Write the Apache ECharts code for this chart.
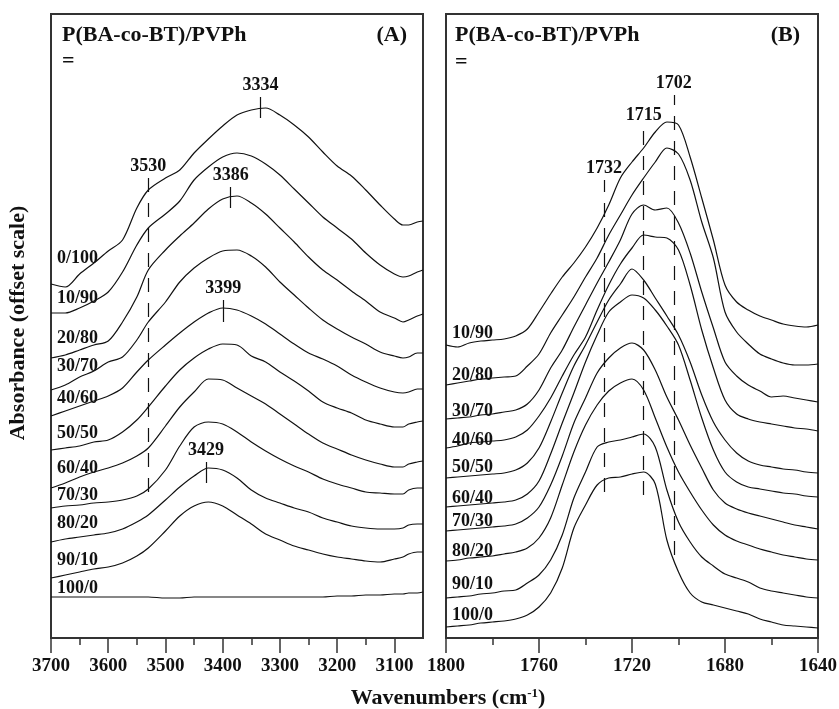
<!DOCTYPE html>
<html>
<head>
<meta charset="utf-8">
<title>P(BA-co-BT)/PVPh FTIR</title>
<script src="https://cdn.jsdelivr.net/npm/echarts@6/dist/echarts.min.js"></script>
<style>
  html, body { margin: 0; padding: 0; background: #fff; }
  #chart { width: 839px; height: 709px; }
</style>
</head>
<body>
<div id="chart"></div>
<script>
// panel A: OH stretching region, wavenumber samples
const waveA = [3700, 3675, 3650, 3625, 3600, 3575, 3550, 3530, 3500, 3475, 3450, 3425, 3400, 3375, 3350,
  3325, 3300, 3275, 3250, 3225, 3200, 3175, 3150, 3125, 3100, 3085, 3075, 3060, 3050];

// absorbance (offset scale)
const a0_100 = [3.54, 3.51, 3.64, 3.75, 3.87, 3.98, 4.30, 4.48, 4.60, 4.68, 4.85, 4.99, 5.12, 5.23, 5.28, 5.30, 5.23, 5.13, 5.01, 4.86, 4.72, 4.62, 4.48, 4.33, 4.19, 4.13, 4.13, 4.16, 4.17];
const a10_90 = [3.25, 3.25, 3.30, 3.37, 3.46, 3.66, 3.93, 4.10, 4.24, 4.37, 4.58, 4.71, 4.81, 4.85, 4.82, 4.74, 4.63, 4.49, 4.35, 4.21, 4.10, 3.99, 3.85, 3.73, 3.64, 3.61, 3.62, 3.66, 3.68];
const a20_80 = [2.80, 2.83, 2.88, 2.93, 2.97, 3.16, 3.41, 3.68, 3.88, 4.02, 4.15, 4.29, 4.39, 4.42, 4.35, 4.24, 4.10, 3.96, 3.81, 3.68, 3.58, 3.47, 3.37, 3.26, 3.20, 3.16, 3.18, 3.22, 3.24];
const a30_70 = [2.48, 2.53, 2.61, 2.67, 2.76, 2.81, 2.98, 3.16, 3.36, 3.56, 3.70, 3.80, 3.87, 3.88, 3.82, 3.71, 3.56, 3.43, 3.30, 3.18, 3.09, 3.01, 2.94, 2.86, 2.82, 2.80, 2.81, 2.85, 2.85];
const a40_60 = [2.22, 2.27, 2.32, 2.37, 2.42, 2.50, 2.66, 2.78, 2.93, 3.05, 3.16, 3.25, 3.30, 3.28, 3.22, 3.14, 3.04, 2.94, 2.85, 2.79, 2.72, 2.63, 2.56, 2.50, 2.46, 2.45, 2.46, 2.49, 2.49];
const a50_50 = [1.88, 1.90, 1.92, 1.96, 1.98, 2.06, 2.18, 2.31, 2.52, 2.68, 2.80, 2.89, 2.94, 2.93, 2.82, 2.76, 2.66, 2.57, 2.47, 2.36, 2.30, 2.25, 2.18, 2.14, 2.11, 2.11, 2.14, 2.16, 2.17];
const a60_40 = [1.50, 1.55, 1.61, 1.66, 1.70, 1.75, 1.82, 1.90, 2.12, 2.31, 2.46, 2.59, 2.58, 2.50, 2.42, 2.34, 2.24, 2.14, 2.04, 1.95, 1.89, 1.83, 1.78, 1.74, 1.71, 1.71, 1.74, 1.76, 1.77];
const a70_30 = [1.30, 1.32, 1.33, 1.35, 1.36, 1.38, 1.42, 1.49, 1.68, 1.92, 2.11, 2.16, 2.14, 2.06, 1.96, 1.87, 1.79, 1.72, 1.66, 1.59, 1.54, 1.50, 1.46, 1.45, 1.44, 1.44, 1.48, 1.50, 1.50];
const a80_20 = [0.96, 0.99, 1.01, 1.03, 1.05, 1.09, 1.16, 1.23, 1.38, 1.51, 1.62, 1.70, 1.68, 1.60, 1.48, 1.40, 1.35, 1.30, 1.26, 1.20, 1.16, 1.12, 1.10, 1.09, 1.09, 1.10, 1.13, 1.14, 1.14];
const a90_10 = [0.60, 0.63, 0.66, 0.69, 0.71, 0.75, 0.82, 0.90, 1.07, 1.22, 1.32, 1.36, 1.32, 1.23, 1.14, 1.04, 0.98, 0.92, 0.88, 0.84, 0.81, 0.79, 0.77, 0.76, 0.79, 0.81, 0.84, 0.86, 0.86];
const a100_0 = [0.41, 0.41, 0.41, 0.41, 0.41, 0.41, 0.41, 0.41, 0.40, 0.40, 0.41, 0.41, 0.41, 0.41, 0.41, 0.41, 0.41, 0.41, 0.41, 0.41, 0.42, 0.42, 0.43, 0.43, 0.44, 0.44, 0.45, 0.45, 0.46];

// panel B: carbonyl region
const waveB = [1800, 1795, 1790, 1785, 1780, 1775, 1770, 1765, 1760, 1755, 1750, 1745, 1740, 1735, 1730, 1725, 1720,
  1715, 1710, 1705, 1700, 1695, 1690, 1685, 1680, 1675, 1670, 1665, 1660, 1655, 1650, 1645, 1640];

const b10_90 = [2.93, 2.91, 2.95, 2.97, 2.98, 2.99, 3.02, 3.09, 3.26, 3.44, 3.61, 3.75, 3.91, 4.10, 4.33, 4.60, 4.76, 4.90, 5.06, 5.16, 5.13, 4.81, 4.40, 3.98, 3.53, 3.36, 3.28, 3.22, 3.18, 3.14, 3.12, 3.11, 3.13];
const b20_80 = [2.53, 2.55, 2.57, 2.59, 2.60, 2.61, 2.62, 2.72, 2.84, 3.05, 3.23, 3.41, 3.61, 3.80, 4.03, 4.23, 4.43, 4.60, 4.76, 4.90, 4.84, 4.58, 4.16, 3.80, 3.26, 3.06, 2.94, 2.84, 2.79, 2.75, 2.73, 2.73, 2.74];
const b30_70 = [2.19, 2.20, 2.21, 2.23, 2.24, 2.26, 2.28, 2.34, 2.48, 2.70, 2.88, 3.11, 3.33, 3.55, 3.76, 3.98, 4.24, 4.33, 4.28, 4.30, 4.15, 3.85, 3.46, 3.10, 2.76, 2.62, 2.53, 2.47, 2.41, 2.42, 2.40, 2.38, 2.36];
const b40_60 = [1.90, 1.92, 1.95, 1.96, 1.97, 1.98, 2.01, 2.08, 2.22, 2.40, 2.62, 2.83, 3.01, 3.28, 3.53, 3.74, 3.90, 4.03, 4.01, 4.00, 3.88, 3.53, 3.08, 2.70, 2.38, 2.24, 2.19, 2.16, 2.14, 2.12, 2.10, 2.09, 2.07];
const b50_50 = [1.60, 1.61, 1.62, 1.63, 1.64, 1.65, 1.68, 1.75, 1.90, 2.16, 2.45, 2.72, 2.93, 3.16, 3.38, 3.54, 3.69, 3.58, 3.40, 3.22, 3.03, 2.76, 2.43, 2.16, 1.98, 1.85, 1.77, 1.73, 1.71, 1.69, 1.68, 1.66, 1.65];
const b60_40 = [1.31, 1.32, 1.33, 1.34, 1.35, 1.36, 1.38, 1.44, 1.57, 1.84, 2.15, 2.45, 2.76, 3.03, 3.26, 3.36, 3.43, 3.40, 3.28, 3.12, 2.93, 2.58, 2.20, 1.88, 1.66, 1.56, 1.51, 1.49, 1.47, 1.45, 1.44, 1.42, 1.41];
const b70_30 = [1.07, 1.08, 1.09, 1.10, 1.11, 1.12, 1.14, 1.20, 1.31, 1.53, 1.82, 2.15, 2.40, 2.65, 2.80, 2.90, 2.95, 2.88, 2.68, 2.41, 2.18, 1.93, 1.70, 1.48, 1.35, 1.29, 1.25, 1.22, 1.19, 1.16, 1.13, 1.11, 1.09];
const b80_20 = [0.77, 0.78, 0.80, 0.81, 0.82, 0.84, 0.86, 0.90, 1.00, 1.20, 1.53, 1.86, 2.13, 2.33, 2.47, 2.55, 2.59, 2.48, 2.20, 1.91, 1.66, 1.46, 1.28, 1.13, 1.03, 0.97, 0.93, 0.89, 0.86, 0.83, 0.81, 0.79, 0.78];
const b90_10 = [0.40, 0.41, 0.42, 0.44, 0.45, 0.47, 0.48, 0.55, 0.63, 0.78, 1.03, 1.40, 1.66, 1.91, 1.96, 1.98, 2.01, 2.04, 1.91, 1.48, 1.16, 0.96, 0.81, 0.72, 0.64, 0.60, 0.56, 0.50, 0.47, 0.45, 0.43, 0.41, 0.40];
const b100_0 = [0.11, 0.12, 0.13, 0.15, 0.16, 0.17, 0.19, 0.23, 0.31, 0.45, 0.70, 1.10, 1.33, 1.53, 1.60, 1.61, 1.64, 1.66, 1.54, 0.98, 0.66, 0.45, 0.36, 0.33, 0.30, 0.27, 0.24, 0.19, 0.16, 0.13, 0.12, 0.11, 0.10];

const namesA = ['0/100', '10/90', '20/80', '30/70', '40/60', '50/50', '60/40', '70/30', '80/20', '90/10', '100/0'];
const curvesA = [a0_100, a10_90, a20_80, a30_70, a40_60, a50_50, a60_40, a70_30, a80_20, a90_10, a100_0];
const namesB = ['10/90', '20/80', '30/70', '40/60', '50/50', '60/40', '70/30', '80/20', '90/10', '100/0'];
const curvesB = [b10_90, b20_80, b30_70, b40_60, b50_50, b60_40, b70_30, b80_20, b90_10, b100_0];

const ticksA = [3700, 3600, 3500, 3400, 3300, 3200, 3100];
const minorTicksA = [3650, 3550, 3450, 3350, 3250, 3150];

const FONT = '"Liberation Serif", "Times New Roman", serif';
const INK = '#111';
const FRAME = '#333';

// label placement (pixels) for the blend ratios
const labelYA = [258, 298, 338, 366, 398, 433, 468, 495, 523, 560, 588];
const labelYB = [333, 375, 411, 440, 467, 498, 521, 551, 584, 615];

const chart = echarts.init(document.getElementById('chart'));

function pairs(wave, vals) {
  return wave.map((w, i) => [w, vals[i]]);
}

function vline(x, y0, y1, text, dashed) {
  return [
    { coord: [x, y0], name: text, lineStyle: { type: dashed ? [14, 11] : 'solid' } },
    { coord: [x, y1] }
  ];
}

const markBase = {
  silent: true,
  symbol: 'none',
  animation: false,
  lineStyle: { color: INK, width: 1.2 },
  label: {
    show: true, position: 'end', distance: 3,
    formatter: p => p.name,
    fontFamily: FONT, fontWeight: 'bold', fontSize: 18, color: INK
  }
};

const marksA = {
  0: [vline(3530, 1.46, 4.60, '3530', true), vline(3334, 5.20, 5.41, '3334', false)],
  2: [vline(3386, 4.30, 4.51, '3386', false)],
  4: [vline(3399, 3.16, 3.38, '3399', false)],
  8: [vline(3429, 1.55, 1.76, '3429', false)]
};
const marksB = {
  0: [vline(1732, 1.46, 4.58, '1732', true), vline(1715, 1.43, 5.11, '1715', true), vline(1702, 0.83, 5.43, '1702', true)]
};

const series = [];
curvesA.forEach((c, i) => {
  const s = {
    name: 'A ' + namesA[i], type: 'line', xAxisIndex: 0, yAxisIndex: 0,
    data: pairs(waveA, c), showSymbol: false, symbol: 'none', smooth: 0.3,
    lineStyle: { color: INK, width: 1.2 }, animation: false
  };
  if (marksA[i]) s.markLine = Object.assign({}, markBase, { data: marksA[i] });
  series.push(s);
});
curvesB.forEach((c, i) => {
  const s = {
    name: 'B ' + namesB[i], type: 'line', xAxisIndex: 2, yAxisIndex: 1,
    data: pairs(waveB, c), showSymbol: false, symbol: 'none', smooth: 0.3,
    lineStyle: { color: INK, width: 1.2 }, animation: false
  };
  if (marksB[i]) s.markLine = Object.assign({}, markBase, { data: marksB[i] });
  series.push(s);
});

const tickLabel = {
  fontFamily: FONT, fontWeight: 'bold', fontSize: 19, color: INK, margin: 19,
  formatter: v => String(v)
};

const graphic = [];
function txt(x, y, text, size, align, extra) {
  graphic.push(Object.assign({
    type: 'text', x: x, y: y, silent: true,
    style: { text: text, font: 'bold ' + size + 'px ' + FONT, fill: INK, align: align || 'left', verticalAlign: 'middle' }
  }, extra || {}));
}
txt(62, 35, 'P(BA-co-BT)/PVPh', 22);
txt(407, 35, '(A)', 22, 'right');
txt(62, 61, '=', 22);
txt(455, 35, 'P(BA-co-BT)/PVPh', 22);
txt(800, 35, '(B)', 22, 'right');
txt(455, 62, '=', 22);
namesA.forEach((n, i) => txt(57, labelYA[i], n, 18));
namesB.forEach((n, i) => txt(452, labelYB[i], n, 18));
txt(18, 323, 'Absorbance (offset scale)', 22, 'center', { rotation: Math.PI / 2 });
graphic.push({
  type: 'text', x: 448, y: 698, silent: true,
  style: {
    text: '{a|Wavenumbers (cm}{s|-1}{a|)}', align: 'center', verticalAlign: 'middle', fill: INK,
    rich: {
      a: { fontFamily: FONT, fontWeight: 'bold', fontSize: 22, color: INK },
      s: { fontFamily: FONT, fontWeight: 'bold', fontSize: 13, color: INK, verticalAlign: 'top', padding: [0, 0, 9, 0] }
    }
  }
});

chart.setOption({
  backgroundColor: '#fff',
  animation: false,
  grid: [
    { left: 51, top: 14, width: 372, height: 624, show: true, borderColor: FRAME, borderWidth: 2,
      containLabel: false, outerBoundsMode: 'none' },
    { left: 446, top: 14, width: 372, height: 624, show: true, borderColor: FRAME, borderWidth: 2,
      containLabel: false, outerBoundsMode: 'none' }
  ],
  xAxis: [
    {
      gridIndex: 0, type: 'value', min: 3050, max: 3700, inverse: true, position: 'bottom',
      axisLine: { show: true, onZero: false, lineStyle: { color: FRAME, width: 2 } },
      axisTick: { show: true, length: 15, customValues: ticksA, lineStyle: { color: FRAME, width: 1.5 } },
      axisLabel: Object.assign({ customValues: ticksA }, tickLabel),
      splitLine: { show: false }
    },
    {
      gridIndex: 0, type: 'value', min: 3050, max: 3700, inverse: true, position: 'bottom', offset: 0,
      axisLine: { show: false },
      axisTick: { show: true, length: 7, customValues: minorTicksA, lineStyle: { color: FRAME, width: 1.5 } },
      axisLabel: { show: false },
      splitLine: { show: false }
    },
    {
      gridIndex: 1, type: 'value', min: 1640, max: 1800, interval: 40, inverse: true, position: 'bottom',
      axisLine: { show: true, onZero: false, lineStyle: { color: FRAME, width: 2 } },
      axisTick: { show: true, length: 15, lineStyle: { color: FRAME, width: 1.5 } },
      minorTick: { show: true, splitNumber: 2, length: 7, lineStyle: { color: FRAME, width: 1.5 } },
      axisLabel: tickLabel,
      splitLine: { show: false },
      minorSplitLine: { show: false }
    }
  ],
  yAxis: [
    { gridIndex: 0, type: 'value', min: 0, max: 6.24, show: false, splitLine: { show: false } },
    { gridIndex: 1, type: 'value', min: 0, max: 6.24, show: false, splitLine: { show: false } }
  ],
  graphic: graphic,
  series: series
});
</script>
</body>
</html>
